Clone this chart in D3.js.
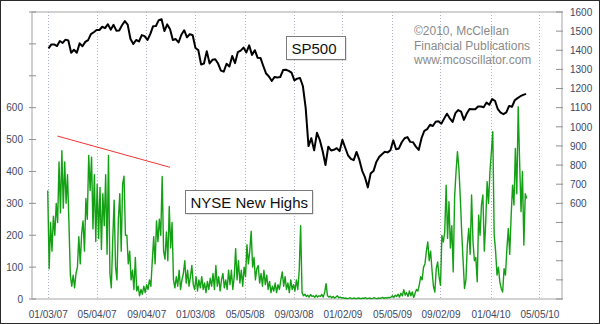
<!DOCTYPE html>
<html><head><meta charset="utf-8">
<script src="https://cdn.jsdelivr.net/npm/d3@7"></script>
<style>html,body{margin:0;padding:0;background:#fff;} svg{display:block;font-family:Arial,"Liberation Sans",sans-serif;}</style>
</head><body><svg id="c" width="600" height="324"></svg>
<script>
// ---------- data ----------
const xTickLabels = ["01/03/07","05/04/07","09/04/07","01/03/08","05/05/08","09/03/08","01/02/09","05/05/09","09/02/09","01/04/10","05/05/10"];
const leftTicks = [0,100,200,300,400,500,600,700,800,900];
const leftTickLabels = [0,100,200,300,400,500,600];
const rightTicks = [100,200,300,400,500,600,700,800,900,1000,1100,1200,1300,1400,1500,1600];
const rightTickLabels = [600,700,800,900,1000,1100,1200,1300,1400,1500,1600];

// S&P 500 weekly closes, first week ending 01/05/07, one value per week
const spxStart = "01/05/07";
const spxStepDays = 7;
const spx = [
1409.7,1430.7,1430.5,1422.2,1448.4,1438.1,1455.5,1451.2,1387.2,1402.8,1386.9,1436.1,1420.9,1443.8,1452.9,1484.4,1494.1,1505.6,1505.9,1522.8,1515.7,1536.3,1507.7,1532.9,1502.6,1503.4,1530.4,1552.5,1534.1,1458.9,1433.1,1453.6,1445.9,1479.4,1474.0,1453.6,1484.3,1525.8,1526.8,1557.6,1561.8,1500.6,1535.3,1509.7,1453.7,1458.7,1440.7,1481.1,1504.7,1468.0,1484.5,1478.5,
1411.6,1401.0,1325.2,1330.6,1395.4,1331.3,1350.0,1353.1,1330.6,1293.4,1288.1,1329.5,1315.2,1370.4,1332.8,1390.3,1397.8,1413.9,1388.3,1425.4,1375.9,1400.4,1360.7,1360.0,1317.9,1278.4,1262.9,1239.5,1260.7,1257.8,1260.3,1296.3,1298.2,1292.2,1282.8,1242.3,1251.7,1255.1,1213.3,1099.2,899.2,940.6,876.8,968.8,931.0,873.3,800.0,896.2,876.1,879.7,887.9,872.8,
931.8,890.4,850.1,832.0,825.9,868.6,826.8,770.1,735.1,683.4,756.6,768.5,815.9,842.5,856.6,869.6,866.2,877.5,929.2,882.9,887.0,919.1,940.1,946.2,921.2,918.9,896.4,879.1,940.4,979.3,987.5,1010.5,1004.1,1026.1,1028.9,1016.4,1042.7,1068.3,1044.4,1025.2,1071.5,1087.7,1079.6,1036.2,1069.3,1093.5,1091.4,1091.5,1106.0,1106.4,1102.5,1126.5,1115.1,
1145.0,1136.0,1091.8,1073.9,1066.2,1075.5,1109.2,1104.5,1138.7,1150.0,1159.9,1166.6,1172.0
];

const nhStart = "01/03/07";
const nhStepDays = 3.5;
const newHighs = [
340,95,240,150,260,200,300,240,430,270,
465,285,430,300,390,240,75,40,75,35,
80,100,195,110,205,245,150,315,250,450,
340,445,220,390,180,360,190,350,155,330,
230,390,140,450,80,35,185,310,100,60,
250,330,150,360,385,200,200,110,150,60,
90,30,130,25,40,10,30,15,40,20,
45,30,60,40,120,195,110,245,180,250,
200,384,150,125,210,120,290,160,240,60,
35,70,40,90,30,60,80,120,50,90,
40,70,105,45,30,70,25,60,35,70,
30,50,20,55,30,65,40,80,30,105,
40,70,25,60,80,35,60,30,90,45,
90,30,70,
158,60,120,50,90,40,100,70,170,110,
150,213,100,130,60,95,105,50,80,40,
90,45,75,30,55,20,40,25,50,20,
45,30,60,85,40,70,30,50,20,60,
30,45,25,60,30,90,230,20,
10,15,8,12,6,14,8,10,5,12,
6,10,8,14,6,20,48,10,6,9,
4,8,3,6,10,4,6,3,4,
2,3,1,2,4,1,2,3,1,2,3,2,1,3,2,4,1,2,3,1,2,4,2,1,3,2,3,5,2,4,3,5,4,
6,10,5,12,8,15,6,18,10,29,
12,20,8,25,10,22,5,18,30,25,
45,70,60,100,110,150,
179,120,150,90,40,22,95,116,70,43,
199,179,210,357,190,305,160,230,85,320,
399,462,410,320,210,120,33,60,170,221,
140,326,180,120,130,54,263,200,295,326,
150,240,368,300,399,460,525,200,150,75,
100,54,33,22,95,75,158,221,140,260,
357,295,472,330,603,431,274,400,169,330,
315
];

const trendDates = ["01/27/07","11/02/07"];
const trendValues = [511,413];
const seriesLabels = ["SP500","NYSE New Highs"];
const credit = ["\u00a92010, McClellan","Financial Publications","www.mcoscillator.com"];
const xDomainLabels = ["11/25/06","06/30/10"];

// ---------- chart ----------
const parse = d3.timeParse("%m/%d/%y");
const svg = d3.select("#c");
const L = 32, R = 562, T = 12, B = 299;
const x = d3.scaleTime().domain(xDomainLabels.map(parse)).range([L, R]);
const yL = d3.scaleLinear().domain([0, 900]).range([B, T]);
const yR = d3.scaleLinear().domain([100, 1600]).range([B, T]);
const DAY = 864e5;
const textCol = "#3d4862";

svg.append("rect").attr("x",0.5).attr("y",0.5).attr("width",599).attr("height",323)
  .attr("fill","#fff").attr("stroke","#2a2a2a").attr("stroke-width",1);

// vertical dotted grid
const tickDates = xTickLabels.map(parse);
svg.append("g").selectAll("line").data(tickDates).join("line")
  .attr("x1", d => Math.round(x(d)) + 0.5).attr("x2", d => Math.round(x(d)) + 0.5)
  .attr("y1", T).attr("y2", B)
  .attr("stroke", "#a9b2c6").attr("stroke-width", 1).attr("stroke-dasharray", "1,2");

// frame
svg.append("rect").attr("x", L).attr("y", T).attr("width", R - L).attr("height", B - T)
  .attr("fill", "none").attr("stroke", "#b4b4b4").attr("stroke-width", 1.2);

// axes
const gl = svg.append("g").attr("transform", `translate(${L},0)`)
  .call(d3.axisLeft(yL).tickValues(leftTicks).tickSize(0).tickPadding(9)
    .tickFormat(d => leftTickLabels.includes(d) ? d : ""));
const gr = svg.append("g").attr("transform", `translate(${R},0)`)
  .call(d3.axisRight(yR).tickValues(rightTicks).tickSize(0).tickPadding(8)
    .tickFormat(d => rightTickLabels.includes(d) ? d : ""));
const gb = svg.append("g").attr("transform", `translate(0,${B})`)
  .call(d3.axisBottom(x).tickValues(tickDates).tickSize(0).tickPadding(12)
    .tickFormat((d, i) => xTickLabels[i]));
[gl, gr, gb].forEach(g => {
  g.select(".domain").remove();
  g.selectAll("text").attr("fill", textCol).style("font-size", "10px")
    .style("font-family", "Arial, 'Liberation Sans', sans-serif");
});
// tick marks
svg.append("g").selectAll("line").data(leftTicks).join("line")
  .attr("x1", L - 3).attr("x2", L + 4).attr("y1", d => yL(d)).attr("y2", d => yL(d))
  .attr("stroke", "#8f8f8f").attr("stroke-width", 1);
svg.append("g").selectAll("line").data(rightTicks).join("line")
  .attr("x1", R - 6).attr("x2", R + 1).attr("y1", d => yR(d)).attr("y2", d => yR(d))
  .attr("stroke", "#8f8f8f").attr("stroke-width", 1);

// series
const nh0 = parse(nhStart).getTime();
const nhData = newHighs.map((v, i) => ({ date: new Date(nh0 + i * nhStepDays * DAY), v }));
svg.append("path").datum(nhData)
  .attr("d", d3.line().x(d => x(d.date)).y(d => yL(d.v)))
  .attr("fill", "none").attr("stroke", "#14a014").attr("stroke-width", 1.4)
  .attr("stroke-linejoin", "round");

const trend = trendDates.map((d, i) => ({ date: parse(d), v: trendValues[i] }));
svg.append("path").datum(trend)
  .attr("d", d3.line().x(d => x(d.date)).y(d => yL(d.v)))
  .attr("fill", "none").attr("stroke", "#f03535").attr("stroke-width", 1);

const s0 = parse(spxStart).getTime();
const spxData = spx.map((v, i) => ({ date: new Date(s0 + i * spxStepDays * DAY), v }));
svg.append("path").datum(spxData)
  .attr("d", d3.line().x(d => x(d.date)).y(d => yR(d.v)))
  .attr("fill", "none").attr("stroke", "#000").attr("stroke-width", 2)
  .attr("stroke-linejoin", "round");

// label boxes
function labelBox(text, bx, by, bw, bh, tx, ty) {
  const g = svg.append("g");
  g.append("rect").attr("x", bx + 1).attr("y", by + 1).attr("width", bw).attr("height", bh)
    .attr("fill", "#c8c8c8");
  g.append("rect").attr("x", bx).attr("y", by).attr("width", bw).attr("height", bh)
    .attr("fill", "#fff").attr("stroke", "#7a7a7a").attr("stroke-width", 1);
  g.append("text").attr("x", tx).attr("y", ty).text(text)
    .attr("fill", "#111").style("font-size", "15px");
}
labelBox(seriesLabels[0], 286.5, 36.5, 59, 23, 291.5, 53.5);
labelBox(seriesLabels[1], 185.5, 190.5, 127, 23, 190.5, 207.5);

// credit
svg.append("g").selectAll("text").data(credit).join("text")
  .attr("x", 414).attr("y", (d, i) => 35 + i * 14.5).text(d => d)
  .attr("fill", "#8a8a8a").style("font-size", "12px");
</script></body></html>
